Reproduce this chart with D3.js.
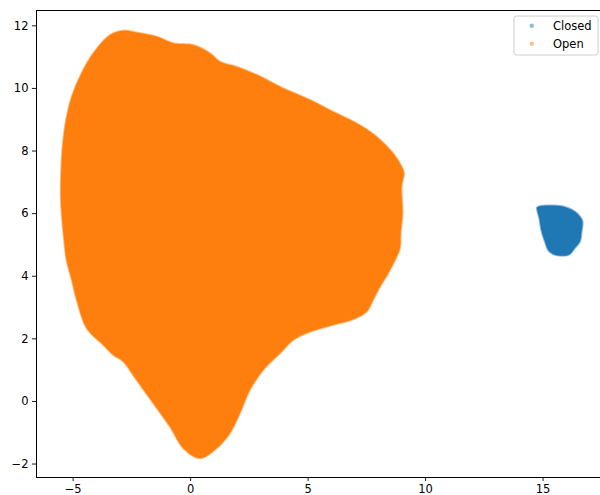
<!DOCTYPE html>
<html>
<head>
<meta charset="utf-8">
<script src="https://cdn.jsdelivr.net/npm/d3@7"></script>
<style>
  html, body { margin: 0; padding: 0; background: #fff; }
  svg { display: block; font-family: "DejaVu Sans", sans-serif; }
</style>
</head>
<body>
<svg id="chart" width="600" height="495"></svg>
<script>
// Series names and colours (legend order)
const seriesNames = ["Closed", "Open"];
const seriesColors = ["#1f77b4", "#ff7f0e"];

// Outline of the "Open" point cloud in embedding coordinates, traced clockwise
const openOutline = [
  [-2.85, 11.83], [-2.28, 11.77], [-1.43, 11.64], [-0.72, 11.43], [0.13, 11.37],
  [0.84, 11.11], [1.27, 10.84], [1.98, 10.68], [2.83, 10.42], [3.96, 9.99],
  [5.10, 9.62], [6.09, 9.24], [7.09, 8.87], [7.94, 8.44], [8.64, 7.91],
  [9.00, 7.49], [9.10, 7.27], [9.00, 6.85], [9.04, 6.00], [8.96, 5.36],
  [8.93, 4.88], [8.79, 4.61], [8.43, 4.08], [8.08, 3.65], [7.79, 3.23],
  [7.51, 2.85], [6.94, 2.61], [6.09, 2.43], [5.10, 2.21], [4.39, 1.95],
  [3.82, 1.52], [3.11, 0.99], [2.54, 0.35], [2.12, -0.39], [1.69, -1.03],
  [1.13, -1.51], [0.42, -1.83], [-0.29, -1.51], [-0.86, -0.82], [-1.57, -0.07],
  [-2.28, 0.67], [-2.85, 1.26], [-3.27, 1.47], [-3.70, 1.79], [-4.40, 2.32],
  [-4.83, 3.23], [-5.04, 3.87], [-5.26, 4.50], [-5.38, 5.25], [-5.50, 6.42],
  [-5.48, 7.49], [-5.43, 8.12], [-5.28, 8.98], [-5.04, 9.72], [-4.62, 10.47],
  [-4.12, 11.11], [-3.41, 11.69]
];

// Outline of the "Closed" point cloud
const closedOutline = [
  [14.77, 6.18], [15.17, 6.24], [15.88, 6.21], [16.37, 6.05], [16.59, 5.89],
  [16.70, 5.73], [16.66, 5.41], [16.59, 5.09], [16.37, 4.88], [16.16, 4.69],
  [15.88, 4.64], [15.45, 4.69], [15.24, 4.82], [15.10, 5.09], [14.96, 5.41],
  [14.86, 5.84], [14.77, 6.10]
];

// Axis ticks
const xTicks = [-5, 0, 5, 10, 15];
const yTicks = [-2, 0, 2, 4, 6, 8, 10, 12];

const svg = d3.select("#chart");
const plot = { left: 36, right: 606, top: 10.3, bottom: 477 };

const x = d3.scaleLinear().domain([-6.56, 17.70]).range([plot.left, plot.right]);
const y = d3.scaleLinear().domain([-2.43, 12.48]).range([plot.bottom, plot.top]);

const area = d3.line()
  .x(d => x(d[0]))
  .y(d => y(d[1]))
  .curve(d3.curveCatmullRomClosed.alpha(0.5));

// Point clouds: dense fill with a soft translucent rim
const clouds = [
  { name: "Closed", outline: closedOutline, color: seriesColors[0] },
  { name: "Open", outline: openOutline, color: seriesColors[1] }
];
svg.append("g").selectAll("path")
  .data(clouds)
  .join("path")
  .attr("d", d => area(d.outline))
  .attr("fill", d => d.color)
  .attr("stroke", d => d.color)
  .attr("stroke-width", 2)
  .attr("stroke-opacity", 0.5)
  .attr("stroke-linejoin", "round");

// Axes
const fmt = d3.format("d");
const xAxis = svg.append("g")
  .attr("transform", `translate(0,${plot.bottom})`)
  .call(d3.axisBottom(x).tickValues(xTicks).tickFormat(fmt).tickSize(4).tickPadding(3.5).tickSizeOuter(0));
const yAxis = svg.append("g")
  .attr("transform", `translate(${plot.left},0)`)
  .call(d3.axisLeft(y).tickValues(yTicks).tickFormat(fmt).tickSize(4).tickPadding(3.5).tickSizeOuter(0));

[xAxis, yAxis].forEach(g => {
  g.select(".domain").remove();
  g.selectAll(".tick line").attr("stroke", "#000").attr("stroke-width", 0.9);
  g.selectAll(".tick text").attr("fill", "#000").attr("font-size", 11.5)
    .attr("font-family", "DejaVu Sans, sans-serif");
});

// Frame
const frame = svg.append("g").attr("stroke", "#000").attr("stroke-width", 1).attr("fill", "none");
frame.append("rect")
  .attr("x", plot.left).attr("y", plot.top)
  .attr("width", plot.right - plot.left).attr("height", plot.bottom - plot.top)
  .attr("shape-rendering", "crispEdges");

// Legend
const legend = svg.append("g").attr("transform", "translate(514,16)");
legend.append("rect")
  .attr("width", 84).attr("height", 39)
  .attr("rx", 2.5).attr("ry", 2.5)
  .attr("fill", "#fff").attr("fill-opacity", 0.8)
  .attr("stroke", "#cccccc").attr("stroke-width", 1);
const items = legend.selectAll("g.item")
  .data(seriesNames)
  .join("g")
  .attr("class", "item")
  .attr("transform", (d, i) => `translate(0,${9.7 + i * 18})`);
items.append("circle")
  .attr("cx", 17.7).attr("cy", 0).attr("r", 2.2)
  .attr("fill", (d, i) => seriesColors[i]).attr("fill-opacity", 0.5);
items.append("text")
  .attr("x", 39).attr("y", 0).attr("dy", "0.35em")
  .attr("font-size", 11.5).attr("fill", "#000")
  .text(d => d);
</script>
</body>
</html>
